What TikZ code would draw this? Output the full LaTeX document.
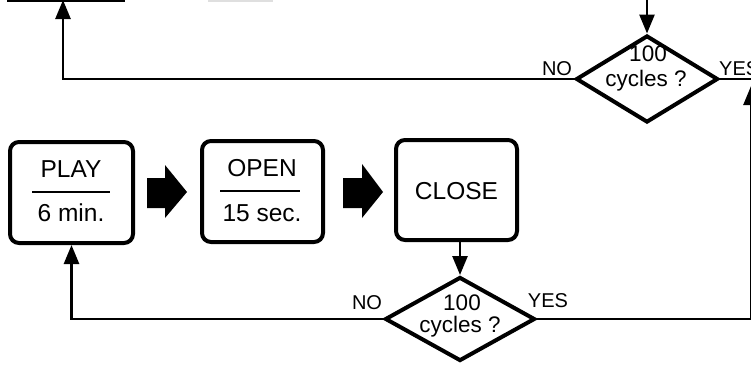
\documentclass[tikz,border=0pt]{standalone}
\usepackage{fontspec}
\setmainfont{Liberation Sans}
\usetikzlibrary{shapes.geometric,arrows.meta}
\begin{document}
\begin{tikzpicture}[x=1pt,y=-1pt,
  procbox/.style={draw,line width=4pt,rounded corners=9pt,inner sep=0pt},
  decbox/.style={draw,diamond,line width=4pt,inner sep=0pt},
  boxtxt/.style={font=\fontsize{24.5}{27}\selectfont,inner sep=0pt,anchor=base},
  dectxt/.style={font=\fontsize{22.5}{25}\selectfont,inner sep=0pt,anchor=base},
  lbl/.style={font=\fontsize{20}{23}\selectfont,inner sep=0pt,anchor=base},
  conn/.style={line width=2.6pt},
  arr/.style={conn,-{Triangle[width=15pt,length=19pt]}},
  fat/.style={fill=black}]
\useasboundingbox (0,0) rectangle (751,364);
\clip (0,0) rectangle (751,364);
% partial boxes at the top edge
\coordinate (tb1) at (7,0);
\coordinate (tb2) at (125,0);
\draw[line width=4pt] (tb1) -- (tb2);
\coordinate (tg1) at (208,0);
\coordinate (tg2) at (273,0);
\draw[line width=3pt,gray!25] (tg1) -- (tg2);
% top decision
\node[decbox,minimum width=142,minimum height=87] (tdia) at (647,79) {};
\node[dectxt] (t100) at (648,61) {100};
\node[dectxt] (tcyc) at (646,86) {cycles ?};
\node[lbl] (tno) at (557,75) {NO};
\node[lbl,anchor=base west] (tyes) at (719,75) {YES};
\coordinate (topin) at (647,-5);
\draw[arr] (tdia.north |- topin) -- (tdia.north);
\coordinate (topup) at (63,0);
\draw[arr] (tdia.west) -| (topup);
\coordinate (tright) at (760,79);
\draw[conn] (tdia.east) -- (tright);
% bottom row boxes
\node[procbox,minimum width=123,minimum height=101] (play) at (71.5,192.5) {};
\node[boxtxt] (playt) at (71,177) {PLAY};
\coordinate (pl1) at (32,192);
\coordinate (pl2) at (110,192);
\draw[conn] (pl1) -- (pl2);
\node[boxtxt] (playd) at (71,221) {6 min.};
\node[procbox,minimum width=121,minimum height=101] (open) at (262.5,191.5) {};
\node[boxtxt] (opent) at (262,176) {OPEN};
\coordinate (op1) at (220,191);
\coordinate (op2) at (300,191);
\draw[conn] (op1) -- (op2);
\node[boxtxt] (opend) at (262,221) {15 sec.};
\node[procbox,minimum width=121,minimum height=100] (close) at (456.5,190) {};
\node[boxtxt] (closet) at (456.5,199) {CLOSE};
% fat arrows
\fill[fat] (147,178) -- (165,178) -- (165,165) -- (187,192) -- (165,218) -- (165,208) -- (147,208) -- cycle;
\fill[fat] (343,178) -- (362,178) -- (362,164) -- (383,192) -- (362,218) -- (362,208) -- (343,208) -- cycle;
% bottom decision
\node[decbox,minimum width=150,minimum height=84] (bdia) at (460,319) {};
\node[dectxt] (b100) at (462,310) {100};
\node[dectxt] (bcyc) at (460,332) {cycles ?};
\node[lbl] (bno) at (367,309) {NO};
\node[lbl] (byes) at (548,307) {YES};
\draw[arr] (close.south -| bdia.north) -- (bdia.north);
\draw[arr] (bdia.west) -| (play.south);
\coordinate (rup) at (751,86);
\draw[arr] (bdia.east) -| (rup);
\end{tikzpicture}
\end{document}
